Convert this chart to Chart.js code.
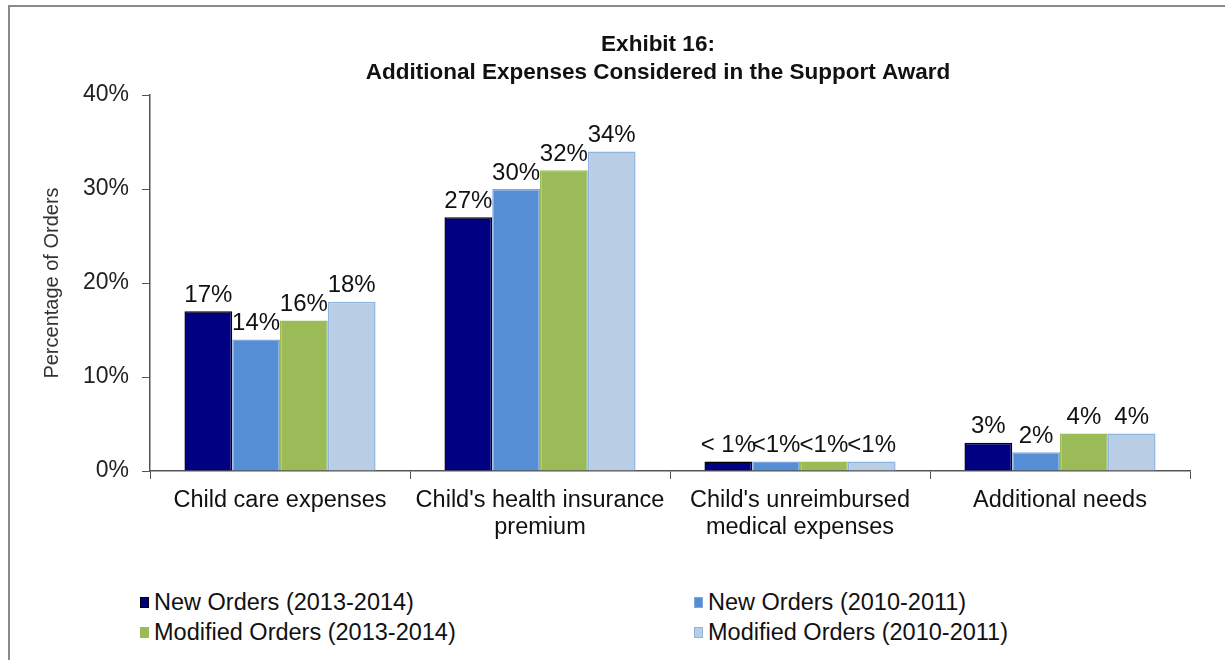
<!DOCTYPE html>
<html>
<head>
<meta charset="utf-8">
<script src="https://cdn.jsdelivr.net/npm/chart.js@4"></script>
<style>
  html, body { margin: 0; padding: 0; background: #fff; overflow: hidden; }
  body { width: 1225px; height: 660px; position: relative; font-family: Arial, "Liberation Sans", sans-serif; }
  .frame { position: absolute; left: 8px; top: 5px; width: 1217px; height: 655px; border-left: 2px solid #8a8a8a; border-top: 2px solid #8a8a8a; box-sizing: border-box; }
  .chart-box { position: absolute; left: 10px; top: 7px; width: 1296px; height: 560px; }
  #legend { position: absolute; left: 140px; top: 589px; display: grid; grid-template-columns: 554px 420px; row-gap: 4px; }
  .item { display: flex; align-items: center; height: 26px; font-size: 23.5px; color: #111; white-space: nowrap; }
  .swatch { width: 9px; height: 11px; margin-right: 5px; box-sizing: border-box; border: 1px solid; }
</style>
</head>
<body>
<div class="frame"></div>
<div class="chart-box"><canvas id="expenseChart"></canvas></div>
<div id="legend"></div>

<script>
const categories = [
    "Child care expenses",
    ["Child's health insurance", "premium"],
    ["Child's unreimbursed", "medical expenses"],
    "Additional needs"
];
const seriesNames = [
    "New Orders (2013-2014)",
    "New Orders (2010-2011)",
    "Modified Orders (2013-2014)",
    "Modified Orders (2010-2011)"
];
// percent of orders; the unreimbursed medical group is under one percent
const newOrders1314 = [17, 27, 1, 3];
const newOrders1011 = [14, 30, 1, 2];
const modOrders1314 = [16, 32, 1, 4];
const modOrders1011 = [18, 34, 1, 4];
const underOneIndex = 2;
const yTicks = [0, 10, 20, 30, 40];

const fills = ["#000080", "#558ed5", "#9bbb59", "#b9cde5"];
const edges = ["#000000", "#7ea8e0", "#9bbb59", "#8db3e2"];

const FONT = "Arial, 'Liberation Sans', sans-serif";

// value labels above each bar
const barLabels = {
    id: "barLabels",
    afterDatasetsDraw(chart) {
        const ctx = chart.ctx;
        ctx.save();
        ctx.font = "24px " + FONT;
        ctx.fillStyle = "#111";
        ctx.textAlign = "center";
        ctx.textBaseline = "bottom";
        chart.data.datasets.forEach((ds, di) => {
            chart.getDatasetMeta(di).data.forEach((bar, i) => {
                let txt = ds.data[i] + "%";
                if (i === underOneIndex) txt = di === 0 ? "< 1%" : "<1%";
                ctx.fillText(txt, bar.x, bar.y - 4);
            });
        });
        ctx.restore();
    }
};

const seriesData = [newOrders1314, newOrders1011, modOrders1314, modOrders1011];

const chart = new Chart(document.getElementById("expenseChart"), {
    type: "bar",
    data: {
        labels: categories,
        datasets: seriesData.map((vals, i) => ({
            label: seriesNames[i],
            data: vals,
            backgroundColor: fills[i],
            borderColor: edges[i],
            borderWidth: 1.5,
            categoryPercentage: 0.735,
            barPercentage: 1
        }))
    },
    options: {
        responsive: true,
        maintainAspectRatio: false,
        animation: false,
        layout: { padding: 0 },
        plugins: {
            legend: { display: false },
            tooltip: { enabled: false },
            title: {
                display: true,
                text: ["Exhibit 16:", "Additional Expenses Considered in the Support Award"],
                color: "#111",
                font: { family: FONT, size: 22.5, weight: "bold", lineHeight: 28 / 22.5 },
                padding: { top: 24, bottom: 8 }
            }
        },
        scales: {
            x: {
                grid: { drawOnChartArea: false, tickLength: 8, color: "#555" },
                border: { color: "#555", width: 1.5 },
                ticks: {
                    color: "#111",
                    padding: 8,
                    maxRotation: 0,
                    autoSkip: false,
                    font: { family: FONT, size: 23.5, lineHeight: 27 / 23.5 }
                },
                afterFit(scale) { scale.height = 96; }
            },
            y: {
                min: 0,
                max: 40,
                afterBuildTicks(scale) { scale.ticks = yTicks.map(v => ({ value: v })); },
                grid: { drawOnChartArea: false, tickLength: 8, color: "#555" },
                border: { color: "#555", width: 1.5 },
                ticks: {
                    color: "#222",
                    padding: 13,
                    font: { family: FONT, size: 23 },
                    callback: v => v + "%"
                },
                title: {
                    display: true,
                    text: "Percentage of Orders",
                    color: "#333",
                    font: { family: FONT, size: 20 },
                    padding: { top: 30, bottom: 0 }
                },
                afterFit(scale) { scale.width = 140; }
            },
            // blank axis on the right, only there to leave empty space beside the plot
            spacer: {
                position: "right",
                display: true,
                grid: { display: false },
                border: { display: false },
                ticks: { display: false },
                afterFit(scale) { scale.width = 116; }
            }
        }
    },
    plugins: [barLabels]
});

// two-column legend under the chart
const legendEl = document.getElementById("legend");
chart.data.datasets.forEach((ds, i) => {
    const item = document.createElement("div");
    item.className = "item";
    const sw = document.createElement("span");
    sw.className = "swatch";
    sw.style.background = fills[i];
    sw.style.borderColor = edges[i];
    item.appendChild(sw);
    item.appendChild(document.createTextNode(ds.label));
    legendEl.appendChild(item);
});
</script>
</body>
</html>
